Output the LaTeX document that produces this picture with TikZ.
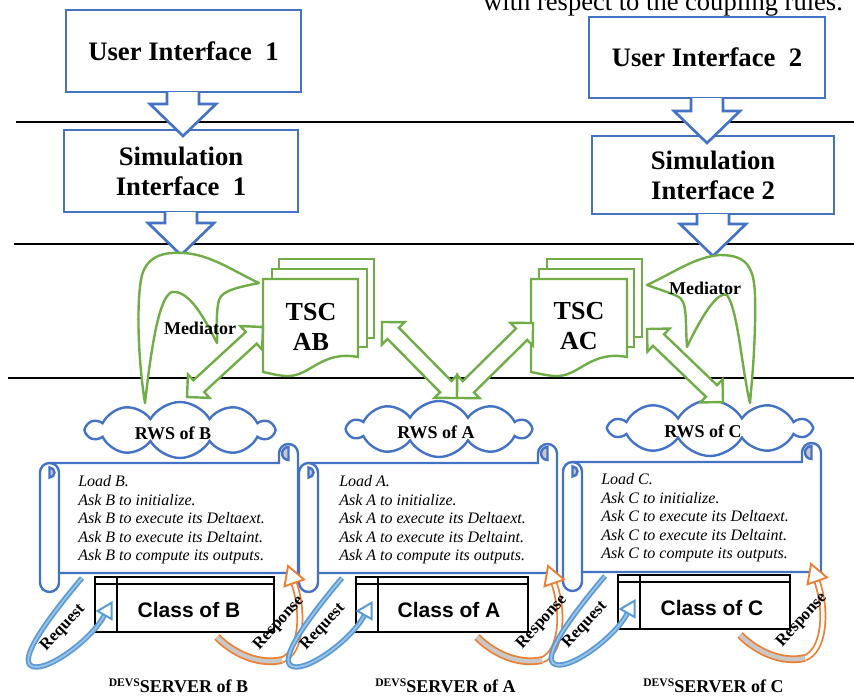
\documentclass[tikz,border=0pt]{standalone}
\usepackage{fontspec}
\setmainfont{Liberation Serif}
\newfontfamily\arialfont{Liberation Sans}
\usetikzlibrary{calc,shapes.symbols}
\definecolor{boxblue}{HTML}{4472C4}
\definecolor{medgreen}{HTML}{70AD47}
\definecolor{reqblue}{HTML}{5B9BD5}
\definecolor{reqlight}{HTML}{9DC3E6}
\definecolor{respor}{HTML}{ED7D31}
\definecolor{curlgray}{HTML}{C8C8C8}
\def\px{*0.75pt}

% block arrow pointing down from a box to a tip coordinate
\newcommand\downblock[2]{%
  \draw[blockarrow] let \p1=(#1.south), \p2=(#2) in
    (\x2-12pt,\y1+1pt) -- (\x2-12pt,\y2+24pt) -- (\x2-24.75pt,\y2+24pt) -- (\x2,\y2)
    -- (\x2+24.75pt,\y2+24pt) -- (\x2+12pt,\y2+24pt) -- (\x2+12pt,\y1+1pt);}

% double-headed block arrow between two coordinates
\newcommand\dblblock[2]{%
  \draw[dblarrow] let \p1=(#1), \p2=(#2), \n1={atan2(\y2-\y1,\x2-\x1)} in
    (\p1) -- ($(\p1)+(\n1:12pt)+(\n1+90:12pt)$) -- ($(\p1)+(\n1:12pt)+(\n1+90:6pt)$)
    -- ($(\p2)-(\n1:12pt)+(\n1+90:6pt)$) -- ($(\p2)-(\n1:12pt)+(\n1+90:12pt)$) -- (\p2)
    -- ($(\p2)-(\n1:12pt)-(\n1+90:12pt)$) -- ($(\p2)-(\n1:12pt)-(\n1+90:6pt)$)
    -- ($(\p1)+(\n1:12pt)-(\n1+90:6pt)$) -- ($(\p1)+(\n1:12pt)-(\n1+90:12pt)$) -- cycle;}

\begin{document}
\begin{tikzpicture}[x=0.75pt,y=-0.75pt,
  sepline/.style={draw=black, line width=1pt},
  uibox/.style={draw=boxblue, line width=2pt, fill=white, align=center, inner sep=0pt,
    font=\fontsize{20}{22.5}\selectfont\bfseries},
  blockarrow/.style={draw=boxblue, line width=2pt, fill=white, line join=miter},
  medline/.style={draw=medgreen, line width=1.8pt, fill=white, line join=round},
  medtext/.style={font=\fontsize{13.5}{16}\selectfont\bfseries, inner sep=0pt},
  docline/.style={draw=medgreen, line width=1.8pt, fill=white},
  tsctext/.style={align=center, inner sep=0pt, font=\fontsize{19.5}{22.5}\selectfont\bfseries},
  dblarrow/.style={draw=medgreen, line width=1.8pt, fill=white, line join=miter},
  rws/.style={cloud, cloud puffs=10, cloud puff arc=120, cloud ignores aspect,
    draw=boxblue, line width=1.8pt, fill=white, inner sep=0pt},
  rwstext/.style={font=\fontsize{13.5}{16}\selectfont\bfseries, inner sep=0pt},
  scrollline/.style={draw=boxblue, line width=1.8pt},
  scrolltext/.style={anchor=west, align=left, inner sep=0pt,
    font=\fontsize{12}{13.9}\selectfont\itshape},
  classbox/.style={draw=black, line width=2.2pt, fill=white, inner sep=0pt,
    path picture={
      \draw[line width=2.2pt] ([yshift=-5.25pt]path picture bounding box.north west)
        -- ([yshift=-5.25pt]path picture bounding box.north east);
      \draw[line width=2.2pt] ([xshift=16.5pt]path picture bounding box.north west)
        -- ([xshift=16.5pt]path picture bounding box.south west);}},
  classtext/.style={font=\arialfont\fontsize{15.75}{18}\selectfont\bfseries, inner sep=0pt},
  reqband/.style={draw=reqblue, line width=1.35pt, double=reqlight, double distance=1.3pt},
  reqhead/.style={draw=reqblue, line width=1.5pt, fill=white, line join=miter},
  respband/.style={draw=respor, line width=1.3pt, double=white, double distance=2.6pt},
  respshade/.style={draw=respor, line width=1.3pt, double=curlgray, double distance=3.2pt},
  resphead/.style={draw=respor, line width=1.4pt, fill=white, line join=miter},
  arrowlabel/.style={font=\fontsize{12.5}{14}\selectfont\bfseries, inner sep=0pt},
  servtext/.style={anchor=base, inner sep=0pt, font=\fontsize{13.5}{16}\selectfont\bfseries},
  scrollpic/.pic={
    \draw[scrollline, fill=white] (9.5,19) -- (239,19) -- (239,9.5)
      arc[start angle=180, end angle=360, radius=9.5] -- (258,129) -- (19,129) -- (19,138.5)
      arc[start angle=0, end angle=180, radius=9.5] -- (0,28.5)
      arc[start angle=180, end angle=270, radius=9.5] -- cycle;
    \draw[scrollline] (9.5,19) arc[start angle=270, end angle=360, radius=9.5] -- (19,129);
    \draw[scrollline, fill=curlgray] (9.5,23.5) arc[start angle=270, end angle=450, radius=5] -- cycle;
    \draw[scrollline, fill=curlgray] (248.5,3) arc[start angle=270, end angle=90, radius=6.5] -- cycle;
  },
  reqpic/.pic={
    \draw[reqband] (82,578) .. controls (55,610) and (20,655) .. (30,665)
      .. controls (42,676) and (92,640) .. (104.5,615);
    \draw[reqhead] (111.5,602.8) -- (111.5,619) -- (97.5,611) -- cycle;
  },
  resppic/.pic={
    \draw[respband] (282,660) .. controls (302,652) and (304,612) .. (294,583);
    \draw[respshade] (217,637) .. controls (235,655) and (260,665) .. (282,660);
    \draw[resphead] (288.1,566) -- (304,579.5) -- (284.5,586.3) -- cycle;
  }
]
\useasboundingbox (0,0) rectangle (854,696);

% running text above the figure
\node[anchor=base west, inner sep=0pt, font=\fontsize{19.9}{22}\selectfont] (note) at (483,11)
  {with respect to the coupling rules.};

% layer separators
\draw[sepline] (16,122) -- (854,122);
\draw[sepline] (14,244) -- (854,244);
\draw[sepline] (8,378) -- (854,378);

% interfaces
\node[uibox, minimum width=235\px, minimum height=82\px] (ui1) at (183.5,51) {User Interface~~1};
\node[uibox, minimum width=234\px, minimum height=82\px] (sim1) at (181,171) {Simulation\\Interface~~1};
\node[uibox, minimum width=236\px, minimum height=81\px] (ui2) at (707,57.5) {User Interface~~2};
\node[uibox, minimum width=242\px, minimum height=78\px] (sim2) at (713,175) {Simulation\\Interface 2};

\coordinate (t1) at (183,136);
\coordinate (t2) at (181,255);
\coordinate (t3) at (707,143);
\coordinate (t4) at (713,256);
\downblock{ui1}{t1}
\downblock{sim1}{t2}
\downblock{ui2}{t3}
\downblock{sim2}{t4}

% remote web services
\node[rws, minimum width=186\px, minimum height=56\px] (cB) at (180,430) {};
\node[rws, minimum width=182\px, minimum height=56\px] (cA) at (439,429) {};
\node[rws, minimum width=200\px, minimum height=56\px] (cC) at (710,428) {};
\node[rwstext] (rB) at (173,433) {RWS of B};
\node[rwstext] (rA) at (436,432) {RWS of A};
\node[rwstext] (rC) at (703,431) {RWS of C};

% mediators
\draw[medline] (145,403) .. controls (138,360) and (136,300) .. (142,275)
  .. controls (148,255) and (165,252) .. (183,253)
  .. controls (210,254) and (235,272) .. (259,283)
  .. controls (240,287) and (222,290) .. (219,300)
  .. controls (215,315) and (218,335) .. (217,343)
  .. controls (205,320) and (190,290) .. (172,292)
  .. controls (160,296) and (152,340) .. (145,403) -- cycle;
\draw[medline] (647,285) .. controls (675,272) and (695,257) .. (720,255)
  .. controls (745,255) and (754,265) .. (755,295)
  .. controls (756,340) and (752,380) .. (750,403)
  .. controls (742,370) and (738,310) .. (727,295)
  .. controls (715,290) and (695,330) .. (687,347)
  .. controls (685,320) and (688,300) .. (677,296)
  .. controls (668,292) and (655,288) .. (647,285) -- cycle;
\node[medtext] (m1) at (200,328) {Mediator};
\node[medtext] (m2) at (705,288) {Mediator};

% time synchronisation components
\draw[docline] (279,259) rectangle (374,338);
\draw[docline] (272,269) rectangle (367,347);
\draw[docline] (263,279) -- (358,279) -- (358,357) .. controls (320,350) and (310,378) .. (285,376)
  .. controls (275,375) and (268,373) .. (263,372) -- cycle;
\node[tsctext] (tscAB) at (311,327) {TSC\\AB};
\draw[docline] (547,259) rectangle (642,337);
\draw[docline] (539,269) rectangle (634,347);
\draw[docline] (531,279) -- (627,279) -- (627,357) .. controls (589,350) and (579,378) .. (554,376)
  .. controls (544,375) and (536,373) .. (531,372) -- cycle;
\node[tsctext] (tscAC) at (579,326) {TSC\\AC};

% links between TSCs and services
\coordinate (a1s) at (187,397); \coordinate (a1e) at (263,327);
\coordinate (a2s) at (382,322); \coordinate (a2e) at (457,398);
\coordinate (a3e) at (533,323);
\coordinate (a4s) at (647,329); \coordinate (a4e) at (723,402);
\dblblock{a1s}{a1e}
\dblblock{a2s}{a2e}
\dblblock{a2e}{a3e}
\dblblock{a4s}{a4e}

% DEVS servers
\pic at (40,444) {scrollpic};
\pic at (299,444) {scrollpic};
\pic at (563,443) {scrollpic};
\node[scrolltext] (sB) at (78,520) {Load B.\\Ask B to initialize.\\Ask B to execute its Deltaext.\\Ask B to execute its Deltaint.\\Ask B to compute its outputs.};
\node[scrolltext] (sA) at (339,520) {Load A.\\Ask A to initialize.\\Ask A to execute its Deltaext.\\Ask A to execute its Deltaint.\\Ask A to compute its outputs.};
\node[scrolltext] (sC) at (601,518) {Load C.\\Ask C to initialize.\\Ask C to execute its Deltaext.\\Ask C to execute its Deltaint.\\Ask C to compute its outputs.};

\node[classbox, minimum width=179\px, minimum height=55\px] (kB) at (184.5,604.5) {};
\node[classbox, minimum width=172\px, minimum height=55\px] (kA) at (442,604.5) {};
\node[classbox, minimum width=172\px, minimum height=54\px] (kC) at (704,602) {};
\node[classtext] (kBt) at (189,610) {Class of B};
\node[classtext] (kAt) at (449,610) {Class of A};
\node[classtext] (kCt) at (712,608) {Class of C};

% request / response loops
\pic at (0,0) {reqpic};
\pic at (0,0) {resppic};
\pic at (260,0) {reqpic};
\pic at (260,0) {resppic};
\pic at (523,-2) {reqpic};
\pic at (523,-2) {resppic};
\node[arrowlabel, rotate=47] (qB) at (63,628) {Request};
\node[arrowlabel, rotate=48] (pB) at (279,623) {Response};
\node[arrowlabel, rotate=47] (qA) at (323,627) {Request};
\node[arrowlabel, rotate=48] (pA) at (542,622) {Response};
\node[arrowlabel, rotate=47] (qC) at (585,625) {Request};
\node[arrowlabel, rotate=48] (pC) at (802,620) {Response};

\node[servtext] (svB) at (178.5,692) {\raisebox{4.5pt}{\fontsize{8.7}{10}\selectfont DEVS}SERVER of B};
\node[servtext] (svA) at (445.5,692) {\raisebox{4.5pt}{\fontsize{8.7}{10}\selectfont DEVS}SERVER of A};
\node[servtext] (svC) at (713.5,692) {\raisebox{4.5pt}{\fontsize{8.7}{10}\selectfont DEVS}SERVER of C};
\end{tikzpicture}
\end{document}
